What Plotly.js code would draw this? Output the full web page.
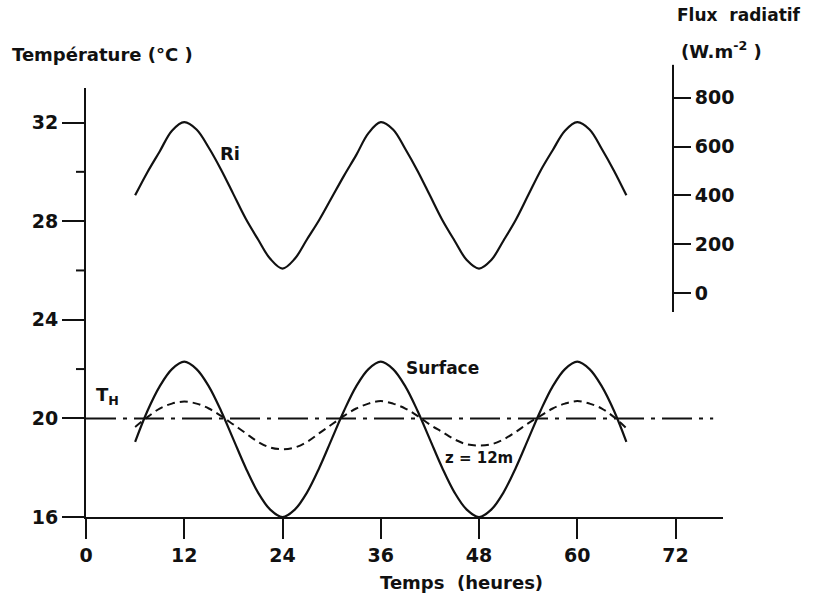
<!DOCTYPE html>
<html>
<head>
<meta charset="utf-8">
<script src="https://cdn.plot.ly/plotly-3.0.1.min.js"></script>
<style>html,body{margin:0;padding:0;background:#fff;}#chart{width:817px;height:598px;}</style>
</head>
<body>
<div id="chart"></div>
<script>
// Time (hours)
const hours = [6, 7.5, 9, 10.5, 12, 13.5, 15, 16.5, 18, 19.5, 21, 22.5, 24, 25.5, 27, 28.5, 30, 31.5, 33, 34.5, 36,
               37.5, 39, 40.5, 42, 43.5, 45, 46.5, 48, 49.5, 51, 52.5, 54, 55.5, 57, 58.5, 60, 61.5, 63, 64.5, 66];
// Radiative flux Ri (W.m-2), right axis
const ri = [400, 495, 580, 665, 700, 670, 595, 505, 405, 305, 220, 140, 100, 140, 220, 300, 390, 480, 565, 655, 700,
            670, 590, 500, 400, 300, 215, 135, 100, 135, 215, 300, 400, 500, 585, 665, 700, 670, 590, 500, 400];
// Surface temperature (°C)
const surface = [19.05, 20.3, 21.3, 22.0, 22.3, 22.0, 21.3, 20.3, 19.15, 18.0, 17.0, 16.3, 16.0, 16.3, 17.0, 18.0, 19.15, 20.3, 21.3, 22.0, 22.3,
                 22.0, 21.3, 20.3, 19.15, 18.0, 17.0, 16.3, 16.0, 16.3, 17.0, 18.0, 19.15, 20.3, 21.3, 22.0, 22.3, 22.0, 21.3, 20.3, 19.05];
// Temperature at z = 12 m (°C)
const z12 = [19.65, 20.05, 20.4, 20.6, 20.68, 20.6, 20.4, 20.1, 19.75, 19.4, 19.05, 18.82, 18.75, 18.82, 19.05, 19.4, 19.75, 20.1, 20.4, 20.6, 20.7,
             20.6, 20.4, 20.1, 19.75, 19.45, 19.15, 18.95, 18.9, 18.95, 19.15, 19.45, 19.8, 20.1, 20.4, 20.6, 20.7, 20.6, 20.4, 20.05, 19.6];
// T_H reference level
const thX = [0, 76.6];
const thY = [20, 20];
// Tick labels
const xTicks = [0, 12, 24, 36, 48, 60, 72];
const yTicks = [16, 20, 24, 28, 32];
const yMinor = [22, 26, 30];
const fluxTicks = [0, 200, 400, 600, 800];

const FONT = 'DejaVu Sans, Liberation Sans, sans-serif';
const black = '#111';
const TICKFONT = {size: 19, family: FONT, color: black, weight: 'bold'};

const traces = [
  {x: thX, y: thY, mode: 'lines', line: {color: black, width: 2, dash: '30px,7px,4px,7px'}, hoverinfo: 'skip'},
  {x: hours, y: surface, mode: 'lines', line: {color: black, width: 2.2, shape: 'spline', smoothing: 1}},
  {x: hours, y: z12, mode: 'lines', line: {color: black, width: 2, dash: '8px,5px', shape: 'spline', smoothing: 1}},
  {x: hours, y: ri, yaxis: 'y2', mode: 'lines', line: {color: black, width: 2.2, shape: 'spline', smoothing: 1}}
];

// minor ticks on the temperature axis (22, 26, 30)
const minorShapes = yMinor.map(v => ({type: 'line', xref: 'paper', yref: 'y', x0: -10 / 637, x1: 0, y0: v, y1: v,
                                      line: {color: black, width: 2}}));

const layout = {
  width: 817, height: 598,
  margin: {l: 86, r: 94, t: 88, b: 81},
  paper_bgcolor: '#fff', plot_bgcolor: 'rgba(0,0,0,0)',
  showlegend: false,
  font: {family: FONT, color: black, size: 16},
  xaxis: {
    range: [0, 77.8], showgrid: false, zeroline: false,
    showline: true, linewidth: 2, linecolor: black,
    ticks: 'outside', ticklen: 20, tickwidth: 2, tickcolor: black,
    tickvals: xTicks, ticktext: xTicks.map(String), tickfont: TICKFONT
  },
  yaxis: {
    range: [16, 33.4], showgrid: false, zeroline: false,
    showline: true, linewidth: 2, linecolor: black,
    ticks: 'outside', ticklen: 22, tickwidth: 2, tickcolor: black,
    tickvals: yTicks, ticktext: yTicks.map(String), tickfont: TICKFONT
  },
  yaxis2: {
    anchor: 'free', position: 0.9215, side: 'right',
    domain: [0.4779, 1], range: [-78, 840],
    showgrid: false, zeroline: false,
    showline: true, linewidth: 2, linecolor: black,
    ticks: 'outside', ticklen: 17, tickwidth: 2, tickcolor: black,
    tickvals: fluxTicks, ticktext: fluxTicks.map(String), tickfont: TICKFONT
  },
  shapes: minorShapes.concat([
    {type: 'line', xref: 'paper', yref: 'paper', x0: 0.9215, x1: 0.9215, y0: 1, y1: 1.054, line: {color: black, width: 2}}
  ]),
  annotations: [
    {xref: 'paper', yref: 'paper', x: -0.119, y: 1.077, xanchor: 'left', yanchor: 'middle', showarrow: false,
     text: '<b>Température (°C )</b>', font: {size: 18, family: FONT}},
    {xref: 'paper', yref: 'paper', x: 1.025, y: 1.170, xanchor: 'center', yanchor: 'middle', showarrow: false,
     text: '<b>Flux  radiatif</b>', font: {size: 17, family: FONT}},
    {xref: 'paper', yref: 'paper', x: 0.998, y: 1.089, xanchor: 'center', yanchor: 'middle', showarrow: false,
     text: '<b>(W.m<sup>-2</sup> )</b>', font: {size: 18, family: FONT}},
    {xref: 'paper', yref: 'paper', x: 0.590, y: -0.152, xanchor: 'center', yanchor: 'middle', showarrow: false,
     text: '<b>Temps  (heures)</b>', font: {size: 18, family: FONT}},
    {x: 2.6, y: 20.9, xref: 'x', yref: 'y', showarrow: false, text: '<b>T<sub>H</sub></b>', font: {size: 18, family: FONT}},
    {x: 17.6, y: 30.75, xref: 'x', yref: 'y', showarrow: false, text: '<b>Ri</b>', font: {size: 18, family: FONT}},
    {x: 43.5, y: 22.05, xref: 'x', yref: 'y', showarrow: false, text: '<b>Surface</b>', font: {size: 17, family: FONT}},
    {x: 48, y: 18.4, xref: 'x', yref: 'y', showarrow: false, text: '<b>z = 12m</b>', font: {size: 15, family: FONT}}
  ]
};

Plotly.newPlot('chart', traces, layout, {displayModeBar: false, staticPlot: true});
</script>
</body>
</html>
